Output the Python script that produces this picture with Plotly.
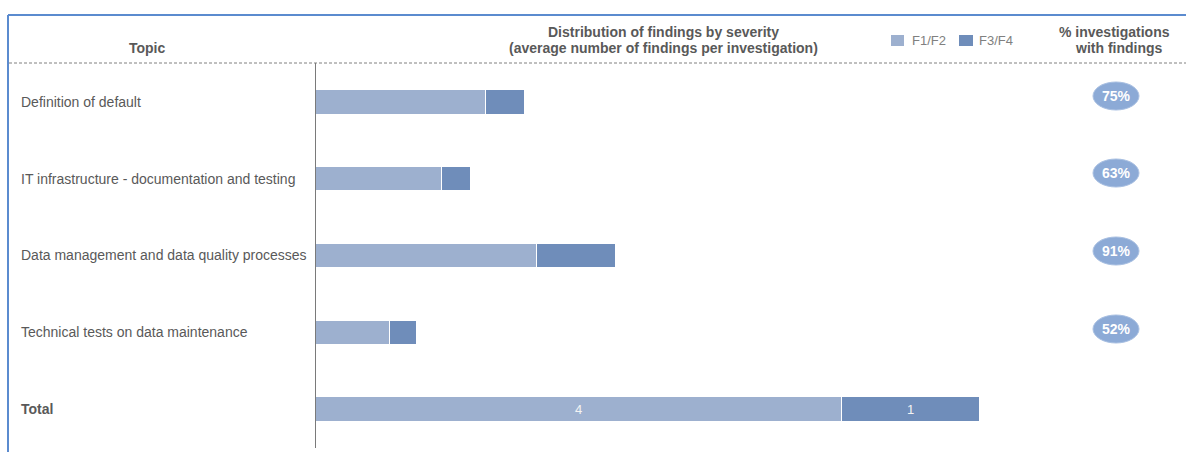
import plotly.graph_objects as go

# ---- data ----
topics = ["Definition of default",
          "IT infrastructure - documentation and testing",
          "Data management and data quality processes",
          "Technical tests on data maintenance",
          "Total"]
f12 = [1.29, 0.96, 1.68, 0.56, 4.0]
f34 = [0.30, 0.22, 0.60, 0.21, 1.05]
pct_labels = ["75%", "63%", "91%", "52%"]
series_names = ["F1/F2", "F3/F4"]
header_dist = ["Distribution of findings by severity",
               "(average number of findings per investigation)"]
header_pct = ["% investigations", "with findings"]

W, H = 1186, 452
C12 = "#9db0cf"
C34 = "#6f8dba"
GREY = "#595959"
FONT = "Liberation Sans, Arial, sans-serif"

def px(x):
    return x / W

def py(y):
    return 1 - y / H

ypos = list(range(len(topics)))
bar_text12 = ["" for _ in topics[:-1]] + [f"{f12[-1]:.0f}"]
bar_text34 = ["" for _ in topics[:-1]] + [f"{f34[-1]:.0f}"]

fig = go.Figure()
fig.add_bar(y=ypos, x=f12, orientation="h", name=series_names[0],
            marker=dict(color=C12, line=dict(color="#ffffff", width=1)),
            width=0.315, text=bar_text12, textposition="inside",
            insidetextanchor="middle",
            textfont=dict(color="#f4f4f4", size=13, family=FONT))
fig.add_bar(y=ypos, x=f34, orientation="h", name=series_names[1],
            marker=dict(color=C34, line=dict(color="#ffffff", width=1)),
            width=0.315, text=bar_text34, textposition="inside",
            insidetextanchor="middle",
            textfont=dict(color="#f4f4f4", size=13, family=FONT))

x0 = 315.5
unit = 131.5
xmax = (W - x0) / unit
row_px = 76.75
top_v = -(102 - 63) / row_px
bot_v = 4 + (H - 409) / row_px

fig.update_layout(
    width=W, height=H, barmode="stack", showlegend=False,
    margin=dict(l=0, r=0, t=0, b=0),
    paper_bgcolor="white", plot_bgcolor="white",
    font=dict(family=FONT, color=GREY),
    xaxis=dict(domain=[px(x0), 1], range=[0, xmax], visible=False, fixedrange=True),
    yaxis=dict(domain=[0, py(63)], range=[bot_v, top_v], visible=False, fixedrange=True),
    hovermode=False, uniformtext=dict(mode="show", minsize=8),
)

shapes = []
# blue frame (left + top)
shapes.append(dict(type="line", xref="paper", yref="paper", x0=px(8), x1=px(8),
                   y0=py(15), y1=py(H), line=dict(color="#5b8bcf", width=2)))
shapes.append(dict(type="line", xref="paper", yref="paper", x0=px(8), x1=1,
                   y0=py(15), y1=py(15), line=dict(color="#5b8bcf", width=2)))
# dashed header separator
shapes.append(dict(type="line", xref="paper", yref="paper", x0=px(9), x1=1,
                   y0=py(63), y1=py(63), line=dict(color="#808080", width=1, dash="3px,2px")))
# vertical axis line
shapes.append(dict(type="line", xref="paper", yref="paper", x0=px(315.5), x1=px(315.5),
                   y0=py(63), y1=py(448), line=dict(color="#7a7a7a", width=1)))
# legend squares
shapes.append(dict(type="rect", xref="paper", yref="paper", x0=px(891), x1=px(904),
                   y0=py(46), y1=py(35), fillcolor=C12, line=dict(width=0)))
shapes.append(dict(type="rect", xref="paper", yref="paper", x0=px(959), x1=px(973),
                   y0=py(46), y1=py(35), fillcolor=C34, line=dict(width=0)))

annotations = []
# ellipses with percentages
ell_y = [96, 173, 251, 329]
for lab, ey in zip(pct_labels, ell_y):
    shapes.append(dict(type="circle", xref="paper", yref="paper",
                       x0=px(1093), x1=px(1139), y0=py(ey - 14), y1=py(ey + 14),
                       fillcolor="#8caad6", line=dict(color="#a9c0e2", width=1)))
    annotations.append(dict(text=f"<b>{lab}</b>", xref="paper", yref="paper",
                            x=px(1116), y=py(ey), showarrow=False,
                            font=dict(color="white", size=14, family=FONT),
                            xanchor="center", yanchor="middle"))

# topic labels
for i, t in enumerate(topics):
    txt = f"<b>{t}</b>" if t == "Total" else t
    annotations.append(dict(text=txt, xref="paper", yref="y", x=px(19), y=i,
                            showarrow=False, xanchor="left", yanchor="middle",
                            font=dict(size=14, color=GREY, family=FONT)))

def head(text, x, y, size=14, color=GREY, anchor="center", bold=True):
    annotations.append(dict(text=f"<b>{text}</b>" if bold else text,
                            xref="paper", yref="paper", x=px(x), y=py(y),
                            showarrow=False, xanchor=anchor, yanchor="middle",
                            font=dict(size=size, color=color, family=FONT)))

head("Topic", 147, 48)
head(header_dist[0], 664, 32)
head(header_dist[1], 664, 48)
head(header_pct[0], 1114, 32)
head(header_pct[1], 1119, 48)
head(series_names[0], 910, 40, size=13, color="#808080", anchor="left", bold=False)
head(series_names[1], 977, 40, size=13, color="#808080", anchor="left", bold=False)

fig.update_layout(shapes=shapes, annotations=annotations)
fig.write_html("out.html", config={"displayModeBar": False},
               post_script="document.body.style.margin='0';document.body.style.padding='0';")
